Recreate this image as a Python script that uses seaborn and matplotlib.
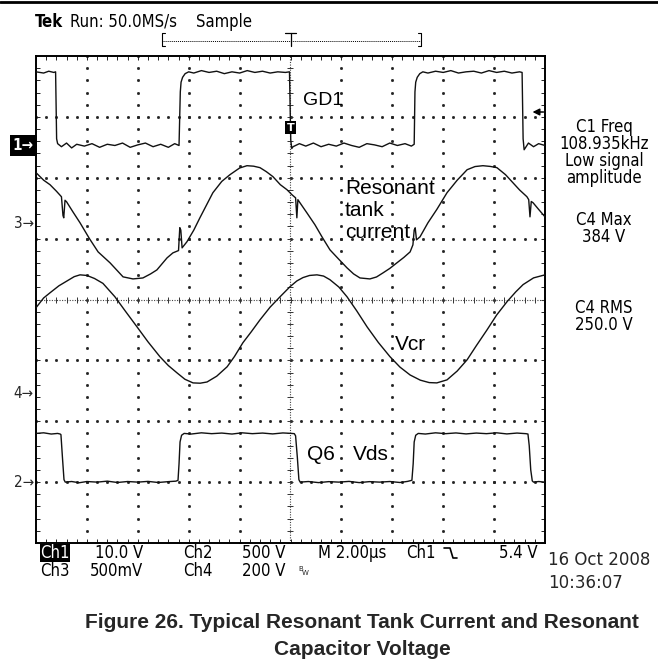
import numpy as np
import pandas as pd
import matplotlib
matplotlib.use("Agg")
import matplotlib.pyplot as plt
import seaborn as sns
from matplotlib.lines import Line2D

# ---------------------------------------------------------
# Scope settings
# ---------------------------------------------------------
# volts (or mV) per division and ground-marker position in divisions
CH1_SCALE, CH1_POS = 10.0, 2.54     # GD1, V
CH2_SCALE, CH2_POS = 500.0, -3.0    # Q6 Vds, V
CH3_SCALE, CH3_POS = 500.0, 1.26    # tank current probe, mV
CH4_SCALE, CH4_POS = 200.0, -1.535  # Vcr, V
TRIG_LEVEL = 5.4                    # V on ch1

# ---------------------------------------------------------
# Traces (time in us, 2 us/div, trigger at 0)
# ---------------------------------------------------------
gd1_t = [-10.0, -9.7, -9.5, -9.3, -9.23, -9.19, -9.15,
         -9.0, -8.8, -8.6, -8.4, -8.1, -7.8, -7.5, -7.2, -6.9, -6.6, -6.3, -6.0,
         -5.7, -5.4, -5.1, -4.8, -4.55, -4.38,
         -4.33, -4.3, -4.24, -4.14, -4.0,
         -3.8, -3.5, -3.2, -2.9, -2.6, -2.3, -2.0, -1.7, -1.4, -1.1, -0.8, -0.5, -0.2, -0.04,
         0.01, 0.05,
         0.1, 0.35, 0.6, 0.9, 1.2, 1.5, 1.8, 2.1, 2.4, 2.7, 3.0, 3.3, 3.6, 3.9, 4.2, 4.5, 4.75, 4.86,
         4.89, 4.92, 4.98, 5.08, 5.2,
         5.4, 5.7, 6.0, 6.3, 6.6, 6.9, 7.2, 7.5, 7.8, 8.1, 8.4, 8.7, 9.0, 9.1,
         9.14, 9.18,
         9.35, 9.55, 9.75, 10.0]
gd1_v = [12.0, 11.8, 12.1, 11.9, 12.0, 1.0, 0.2,
         -0.3, 0.3, -0.5, 0.1, -0.2, 0.2, -0.4, 0.1, -0.1, 0.3, -0.4, 0.0,
         0.3, -0.3, 0.1, -0.4, 0.2, -0.1,
         8.7, 10.3, 11.1, 11.7, 12.0,
         11.8, 12.2, 11.9, 12.1, 11.7, 12.0, 11.8, 12.2, 11.9, 12.1, 11.8, 12.0, 11.9, 12.0,
         0.8, -0.6,
         -0.3, 0.2, -0.2, 0.3, -0.3, 0.1, -0.2, 0.3, -0.1, -0.4, 0.2, 0.0, -0.3, 0.3, -0.1, 0.2, -0.2, 0.1,
         8.7, 10.3, 11.1, 11.7, 12.0,
         11.8, 12.1, 11.9, 12.2, 11.8, 12.0, 12.1, 11.8, 12.2, 11.9, 12.1, 11.8, 12.0, 11.9,
         1.0, -0.8,
         0.3, -0.3, 0.2, -0.1]

vds_t = [-10.0, -9.7, -9.4, -9.15, -9.05,
         -9.02, -8.96, -8.9, -8.85,
         -8.6, -8.3, -8.0, -7.6, -7.2, -6.8, -6.4, -6.0, -5.6, -5.2, -4.8, -4.5, -4.42,
         -4.38, -4.34, -4.28, -4.18,
         -3.9, -3.5, -3.1, -2.7, -2.3, -1.9, -1.5, -1.1, -0.7, -0.3, 0.05, 0.15,
         0.2, 0.27, 0.33, 0.38,
         0.7, 1.1, 1.5, 1.9, 2.3, 2.7, 3.1, 3.5, 3.9, 4.3, 4.6, 4.77,
         4.82, 4.86, 4.92, 5.02,
         5.3, 5.7, 6.1, 6.5, 6.9, 7.3, 7.7, 8.1, 8.5, 8.9, 9.25, 9.33,
         9.38, 9.44, 9.5, 9.55,
         9.75, 10.0]
vds_v = [400, 405, 395, 400, 395,
         390, 200, 20, 0,
         5, -5, 5, 0, 8, -3, 5, 0, 6, -3, 4, 8, 15,
         150, 330, 385, 400,
         395, 405, 398, 403, 395, 405, 398, 403, 396, 404, 400, 398,
         380, 200, 20, 0,
         5, -4, 4, 0, 6, -4, 4, 0, 5, -3, 6, 15,
         150, 330, 385, 400,
         395, 405, 398, 404, 396, 403, 398, 405, 396, 403, 398, 395,
         300, 100, 10, 0,
         5, 0]

itank_t = [-10.0, -9.7, -9.45, -9.2, -9.0, -8.94, -8.91, -8.86, -8.8, -8.55, -8.27,
           -7.9, -7.56, -7.09, -6.58, -6.19, -5.8, -5.5, -5.25, -4.85, -4.62, -4.4,
           -4.35, -4.31, -4.26, -4.07, -3.8, -3.56, -3.05, -2.7, -2.38, -2.0, -1.71,
           -1.45, -1.2, -0.95, -0.69, -0.4, -0.14, 0.06, 0.2, 0.25, 0.29, 0.37,
           0.65, 0.96, 1.25, 1.55, 1.9, 2.22, 2.48, 2.73, 3.12, 3.38, 3.63, 3.9,
           4.18, 4.45, 4.7, 4.81, 4.86, 4.9, 4.95, 5.09, 5.4, 5.75, 6.15, 6.55,
           6.94, 7.25, 7.56, 7.85, 8.11, 8.45, 8.74, 9.0, 9.29, 9.36, 9.41, 9.46,
           9.53, 9.75, 10.0]
itank_mv = [412, 350, 313, 260, 214, 60, 41, 185, 173, 90, 0,
            -130, -239, -329, -444, -461, -453, -420, -387, -288, -247, -228,
            -40, -60, -206, -156, -60, 41, 247, 340, 395, 450, 469,
            465, 453, 420, 379, 313, 272, 230, 205, 41, 190, 165,
            80, -16, -120, -222, -300, -370, -420, -453, -461, -445, -412, -375,
            -329, -285, -239, -181, -60, -41, -140, -115, 0, 110, 247, 350,
            436, 462, 469, 463, 453, 395, 329, 270, 214, 190, 49, 175,
            165, 110, 49]

vcr_t = [-10.0, -9.7, -9.45, -9.1, -8.78, -8.5, -8.27, -8.0, -7.7, -7.37, -6.9,
         -6.5, -6.03, -5.6, -5.13, -4.8, -4.46, -4.15, -3.83, -3.55, -3.28, -2.9,
         -2.49, -2.2, -1.87, -1.55, -1.2, -0.8, -0.41, -0.02, 0.25, 0.49, 0.75,
         1.04, 1.3, 1.55, 1.9, 2.22, 2.6, 3.01, 3.45, 3.91, 4.3, 4.7, 5.1, 5.45,
         5.75, 6.15, 6.55, 6.94, 7.3, 7.72, 8.1, 8.51, 8.85, 9.14, 9.55, 10.0]
vcr_v = [280, 312, 329, 352, 368, 382, 388, 386, 376, 360, 316,
         270, 217, 168, 119, 90, 66, 45, 33, 32, 36, 55,
         86, 120, 165, 200, 240, 282, 316, 349, 368, 379, 386,
         388, 384, 372, 348, 316, 270, 217, 166, 119, 85, 59, 42, 34,
         33, 43, 72, 109, 155, 207, 256, 300, 332, 356, 378, 388]

# measurement readouts on the right of the screen
readouts = ['C1 Freq\n108.935kHz\nLow signal\namplitude',
            'C4 Max\n384 V',
            'C4 RMS\n250.0 V']

# ---------------------------------------------------------
# Figure / screen layout (pixel geometry of the screenshot)
# ---------------------------------------------------------
W, H = 658, 672
sns.set_style("white")
plt.rcParams['font.family'] = ['DejaVu Sans']

fig = plt.figure(figsize=(W / 100, H / 100), dpi=100)
ax = fig.add_axes([36 / W, 1 - 543 / H, 509 / W, 487 / H])

TEK = dict(family='DejaVu Sans', stretch='condensed', fontsize=12, color='black')
LBL = dict(family=['Liberation Sans', 'DejaVu Sans'], fontsize=15, color='black')


def ftxt(px, py, s, **kw):
    kw.setdefault('va', 'baseline')
    return fig.text(px / W, 1 - py / H, s, **kw)


def fline(xs, ys, **kw):
    fig.add_artist(Line2D([x / W for x in xs], [1 - y / H for y in ys],
                          transform=fig.transFigure, **kw))


# ---- graticule ----
ax.set_xlim(-10, 10)
ax.set_ylim(-4, 4)
grid_y = np.arange(-4, 4.001, 0.2)
grid_x = np.arange(-10, 10.001, 0.4)
for gx in [-8, -6, -4, -2, 2, 4, 6, 8]:
    ax.plot(np.full_like(grid_y, gx), grid_y, ls='none', marker='s', ms=1.0,
            color='#222222', zorder=1)
for gy in [-3, -2, -1, 1, 2, 3]:
    ax.plot(grid_x, np.full_like(grid_x, gy), ls='none', marker='s', ms=1.0,
            color='#222222', zorder=1)
# centre cross with sub-division ticks
ax.plot([-10, 10], [0, 0], ls=(0, (1, 1.3)), lw=0.8, color='#444444', zorder=1)
ax.plot([0, 0], [-4, 4], ls=(0, (1, 1.3)), lw=0.8, color='#444444', zorder=1)
ax.plot(grid_x, np.zeros_like(grid_x), ls='none', marker='|', ms=4, mew=0.7,
        color='#333333', zorder=1)
ax.plot(np.zeros_like(grid_y), grid_y, ls='none', marker='_', ms=4, mew=0.7,
        color='#333333', zorder=1)

ax.set_xticks(grid_x)
ax.set_yticks(grid_y)
ax.tick_params(direction='in', length=3, width=0.7, top=True, right=True,
               bottom=True, left=True, labelbottom=False, labelleft=False,
               colors='#222222')
for sp in ax.spines.values():
    sp.set_visible(True)
    sp.set_color('black')
    sp.set_linewidth(1.4)

# ---- traces ----
traces = [(gd1_t, gd1_v, CH1_SCALE, CH1_POS),
          (itank_t, itank_mv, CH3_SCALE, CH3_POS),
          (vcr_t, vcr_v, CH4_SCALE, CH4_POS),
          (vds_t, vds_v, CH2_SCALE, CH2_POS)]
for t, v, scale, pos in traces:
    df = pd.DataFrame({'t': t, 'div': pos + np.asarray(v, float) / scale})
    sns.lineplot(data=df, x='t', y='div', ax=ax, color='#111111', lw=1.0,
                 estimator=None, sort=False, legend=False, zorder=3)
ax.set_xlabel('')
ax.set_ylabel('')

# trigger level arrow on the right edge
trig_div = CH1_POS + TRIG_LEVEL / CH1_SCALE
ax.annotate('', xy=(9.4, trig_div), xytext=(10.05, trig_div),
            arrowprops=dict(arrowstyle='-|>', color='black', lw=1.1,
                            mutation_scale=10), annotation_clip=False)
# trigger position marker on the centre line
ax.text(0, 2.82, 'T', ha='center', va='center', fontsize=8, color='white',
        fontweight='bold', family='DejaVu Sans',
        bbox=dict(boxstyle='square,pad=0.15', fc='black', ec='none'), zorder=5)

# ---- trace labels ----
ftxt(303, 105, 'GD1', fontsize=14, family=LBL['family'], color='black')
ftxt(345, 194, 'Resonant', **LBL)
ftxt(345, 216, 'tank', **LBL)
ftxt(345, 238, 'current', **LBL)
ftxt(395, 350, 'Vcr', **LBL)
ftxt(307, 460, 'Q6', **LBL)
ftxt(353, 460, 'Vds', **LBL)

# ---- channel ground markers ----
def ypx(div):
    return 299.5 - div * 60.9

MARK = dict(ha='right', fontsize=11, family='DejaVu Sans', stretch='condensed')
ftxt(34, ypx(CH1_POS) + 5, '1\u2192', color='white', fontweight='bold',
     bbox=dict(boxstyle='square,pad=0.2', fc='black', ec='none'), **MARK)
ftxt(34, ypx(CH3_POS) + 5, '3\u2192', **MARK)
ftxt(34, ypx(CH4_POS) + 5, '4\u2192', **MARK)
ftxt(34, ypx(CH2_POS) + 5, '2\u2192', **MARK)

# ---- header ----
fline([0, W], [1.5, 1.5], color='black', lw=2)
ftxt(35, 27, 'Tek', fontweight='bold', **TEK)
ftxt(70, 27, 'Run: 50.0MS/s', **TEK)
ftxt(196, 27, 'Sample', **TEK)
# record-position bracket
fline([165, 162, 162, 165], [33, 33, 46, 46], color='black', lw=0.8)
fline([418, 421, 421, 418], [33, 33, 46, 46], color='black', lw=0.8)
fline([162, 421], [41, 41], color='black', lw=0.7, ls=(0, (1, 1)))
fline([285, 296], [33, 33], color='black', lw=0.9)
fline([290.5, 290.5], [33, 46], color='black', lw=0.9)

# ---- measurement readouts (baseline = last line) ----
for s, y in zip(readouts, [183, 242, 330]):
    ftxt(604, y, s, ha='center', multialignment='center', linespacing=0.92, **TEK)

# ---- bottom settings line ----
ftxt(40, 558, 'Ch1', color='white', family='DejaVu Sans', stretch='condensed',
     fontsize=12, bbox=dict(boxstyle='square,pad=0.0', fc='black', ec='none'))
ftxt(95, 558, '10.0 V', **TEK)
ftxt(183, 558, 'Ch2', **TEK)
ftxt(242, 558, '500 V', **TEK)
ftxt(318, 558, 'M 2.00\u00b5s', **TEK)
ftxt(406, 558, 'Ch1', **TEK)
fline([444, 450, 453, 457], [548, 548, 558, 558], color='black', lw=1.2)
ftxt(538, 558, '5.4 V', ha='right', **TEK)
ftxt(40, 576, 'Ch3', **TEK)
ftxt(90, 576, '500mV', **TEK)
ftxt(183, 576, 'Ch4', **TEK)
ftxt(242, 576, '200 V', **TEK)
ftxt(298, 571, 'B', fontsize=5, family='DejaVu Sans')
ftxt(302, 575, 'W', fontsize=5, family='DejaVu Sans')
ftxt(548, 565, '16 Oct 2008', fontsize=12, family='DejaVu Sans')
ftxt(548, 588, '10:36:07', fontsize=12, family='DejaVu Sans')

# ---- caption ----
CAP = dict(family=['Liberation Sans', 'DejaVu Sans'], fontsize=15,
           fontweight='bold', ha='center')
ftxt(362, 628, 'Figure 26. Typical Resonant Tank Current and Resonant', **CAP)
ftxt(362, 655, 'Capacitor Voltage', **CAP)

fig.savefig('out.png', dpi=100)
